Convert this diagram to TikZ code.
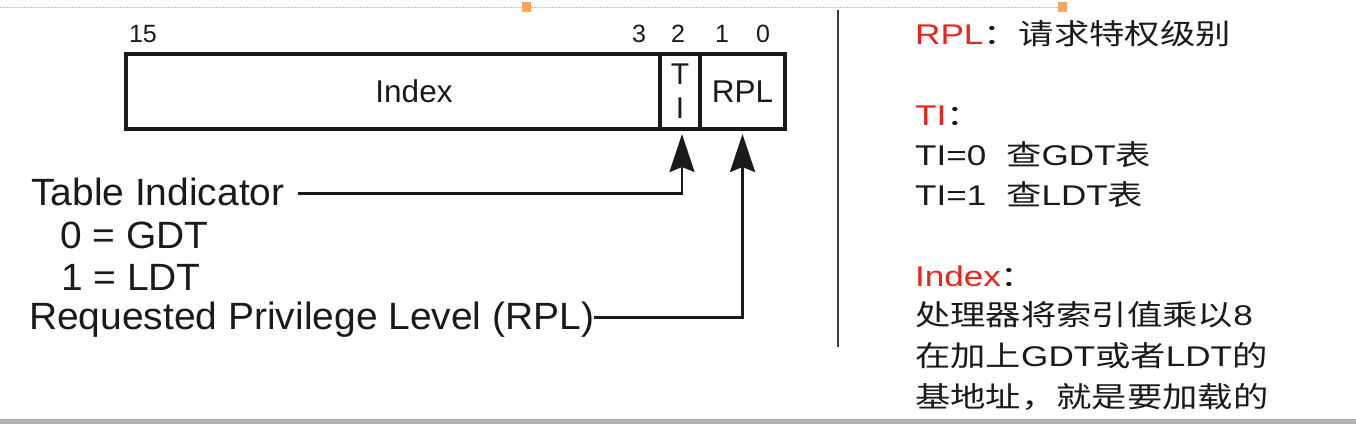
\documentclass[tikz,border=0pt]{standalone}
\usepackage{fontspec}
\setmainfont{Liberation Sans}
\newfontfamily\rsans[FakeStretch=1.23]{Liberation Sans}
\newfontfamily\cjkf[FakeStretch=1.24]{Noto Sans CJK SC}
\newfontfamily\lsans[FakeStretch=1.025]{Liberation Sans}
\usetikzlibrary{arrows.meta}
\definecolor{ink}{HTML}{1A1A1A}
\definecolor{hred}{HTML}{E8251B}
\definecolor{dotc}{HTML}{F2B48A}
\definecolor{sqc}{HTML}{F4A460}
\newcommand{\zh}[1]{{\cjkf #1}}
\begin{document}
\begin{tikzpicture}[x=1pt,y=-1pt,
  field/.style={draw=ink, line width=4pt, inner sep=0pt, anchor=north west,
    minimum height=75pt, text=ink, font=\fontsize{31.5}{34}\selectfont},
  bitno/.style={inner sep=0pt, anchor=base, text=ink, font=\fontsize{25}{28}\selectfont},
  lbl/.style={inner sep=0pt, anchor=base west, text=ink, font=\lsans\fontsize{38}{40}\selectfont},
  note/.style={inner sep=0pt, anchor=base west, text=ink, font=\rsans\fontsize{28.5}{32}\selectfont},
  conn/.style={draw=ink, line width=3pt, -{Stealth[length=38pt,width=25pt,inset=5pt]}}
]
\useasboundingbox (0,0) rectangle (1356,424);
\fill[white] (0,0) rectangle (1356,424);

% top dotted guide and handles
\draw[dotc, line width=1pt, dash pattern=on 1.5pt off 1.5pt] (0,7) -- (1063,7);
\fill[sqc] (522,2) rectangle (531,12);
\fill[sqc] (1058,2) rectangle (1067,12);

% divider
\draw[ink!85, line width=1.8pt] (838,10) -- (838,347);

% selector fields
\node[field, minimum width=534pt] (idx) at (124,52) {\hspace*{42pt}Index};
\node[field, minimum width=40pt, align=center, font=\fontsize{30}{34}\selectfont] (ti) at (658,52) {T\\I};
\node[field, minimum width=85pt] (rpl) at (698,52) {RPL};

% bit numbers
\node[bitno] (b15) at (143,42) {15};
\node[bitno] (b3) at (639,42) {3};
\node[bitno] (b2) at (678,42) {2};
\node[bitno] (b1) at (722,42) {1};
\node[bitno] (b0) at (763,42) {0};

% left labels
\node[lbl] (tilbl) at (31,205) {Table Indicator};
\node[lbl] (gdt) at (60,248) {0 = GDT};
\node[lbl] (ldt) at (61,290) {1 = LDT};
\node[lbl] (rpllbl) at (29,329) {Requested Privilege Level (RPL)};

% connectors
\draw[conn, line width=2.5pt] ([xshift=13pt,yshift=-2pt]tilbl.east) -| ([xshift=2pt,yshift=-3pt]ti.south);
\draw[conn] ([yshift=2pt]rpllbl.east) -| ([yshift=-3pt]rpl.south);

% right notes
\node[note] (n1) at (915,44) {\textcolor{hred}{RPL}\zh{：请求特权级别}};
\node[note] (n2) at (915,125) {\textcolor{hred}{TI}\zh{：}};
\node[note] (n3) at (915,165) {TI=0\hspace{20pt}\zh{查}GDT\zh{表}};
\node[note] (n4) at (915,205) {TI=1\hspace{20pt}\zh{查}LDT\zh{表}};
\node[note] (n5) at (915,286) {\textcolor{hred}{Index}\zh{：}};
\node[note] (n6) at (915,325) {\zh{处理器将索引值乘以}8};
\node[note] (n7) at (915,366) {\zh{在加上}GDT\zh{或者}LDT\zh{的}};
\node[note] (n8) at (915,407) {\zh{基地址，就是要加载的}};

% bottom bar
\fill[gray!60] (0,419) rectangle (1356,424);
\end{tikzpicture}
\end{document}
